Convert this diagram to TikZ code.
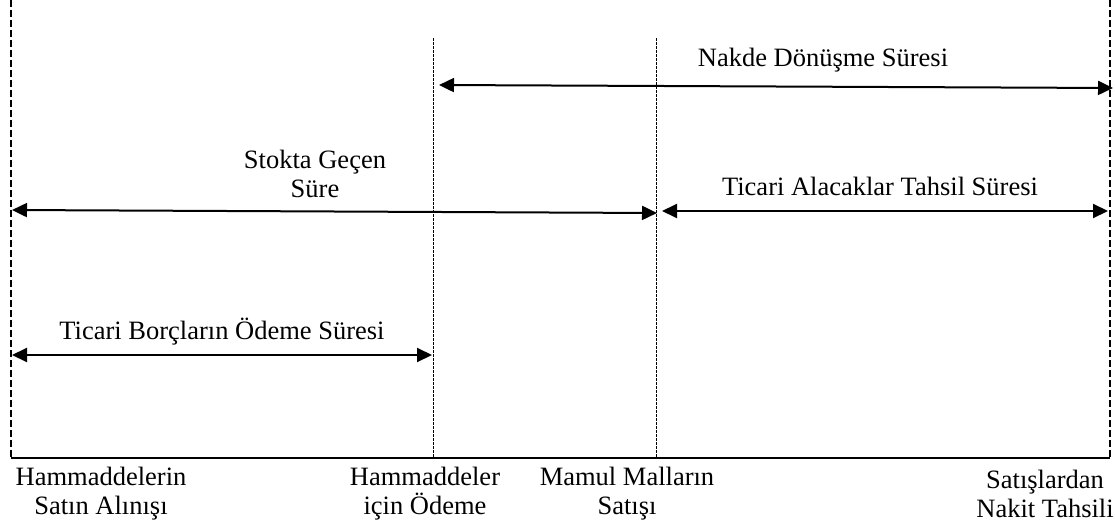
\documentclass[tikz,border=0pt]{standalone}
\usepackage{fontspec}
\setmainfont{Liberation Serif}
\usetikzlibrary{arrows.meta}
\begin{document}
\begin{tikzpicture}[x=1pt,y=-1pt,
  lbl/.style={font=\fontsize{26.5}{29}\selectfont, align=center, inner sep=0pt},
  frameline/.style={line width=1.8pt, dash pattern=on 7pt off 3pt},
  markline/.style={line width=0.7pt, dash pattern=on 3pt off 1pt},
  spanarrow/.style={line width=2pt, {Triangle[length=15pt,width=14pt]}-{Triangle[length=15pt,width=14pt]}}
]
\useasboundingbox (0,0) rectangle (1115,532);
% frame
\coordinate (tl) at (11,0);
\coordinate (bl) at (11,458);
\coordinate (tr) at (1110,0);
\coordinate (br) at (1110,458);
\draw[frameline] (tl) -- (bl);
\draw[frameline] (tr) -- (br);
\draw[line width=2pt] (bl) -- (br);
% dotted markers
\coordinate (m1t) at (433,38);
\coordinate (m1b) at (433,458);
\coordinate (m2t) at (656,38);
\coordinate (m2b) at (656,458);
\draw[markline] (m1t) -- (m1b);
\draw[markline] (m2t) -- (m2b);
% arrows
\coordinate (n1) at (439,85);
\coordinate (n2) at (1113,88);
\draw[spanarrow] (n1) -- (n2);
\coordinate (s1) at (12,210);
\coordinate (s2) at (657,213);
\draw[spanarrow] (s1) -- (s2);
\coordinate (t1) at (662,211);
\coordinate (t2) at (1108,211);
\draw[spanarrow] (t1) -- (t2);
\coordinate (b1) at (12,355);
\coordinate (b2) at (432,355);
\draw[spanarrow] (b1) -- (b2);
% labels
\node[lbl] (nakde) at (823,60) {Nakde Dönüşme Süresi};
\node[lbl] (stok) at (315,174) {Stokta Geçen\\Süre};
\node[lbl] (alacak) at (880,186) {Ticari Alacaklar Tahsil Süresi};
\node[lbl] (borc) at (222,332) {Ticari Borçların Ödeme Süresi};
\node[lbl] (h1) at (101,494) {Hammaddelerin\\Satın Alınışı};
\node[lbl] (h2) at (425,494) {Hammaddeler\\için Ödeme};
\node[lbl] (h3) at (627,494) {Mamul Malların\\Satışı};
\node[lbl] (h4) at (1045,494) {Satışlardan\\Nakit Tahsili};
\end{tikzpicture}
\end{document}
